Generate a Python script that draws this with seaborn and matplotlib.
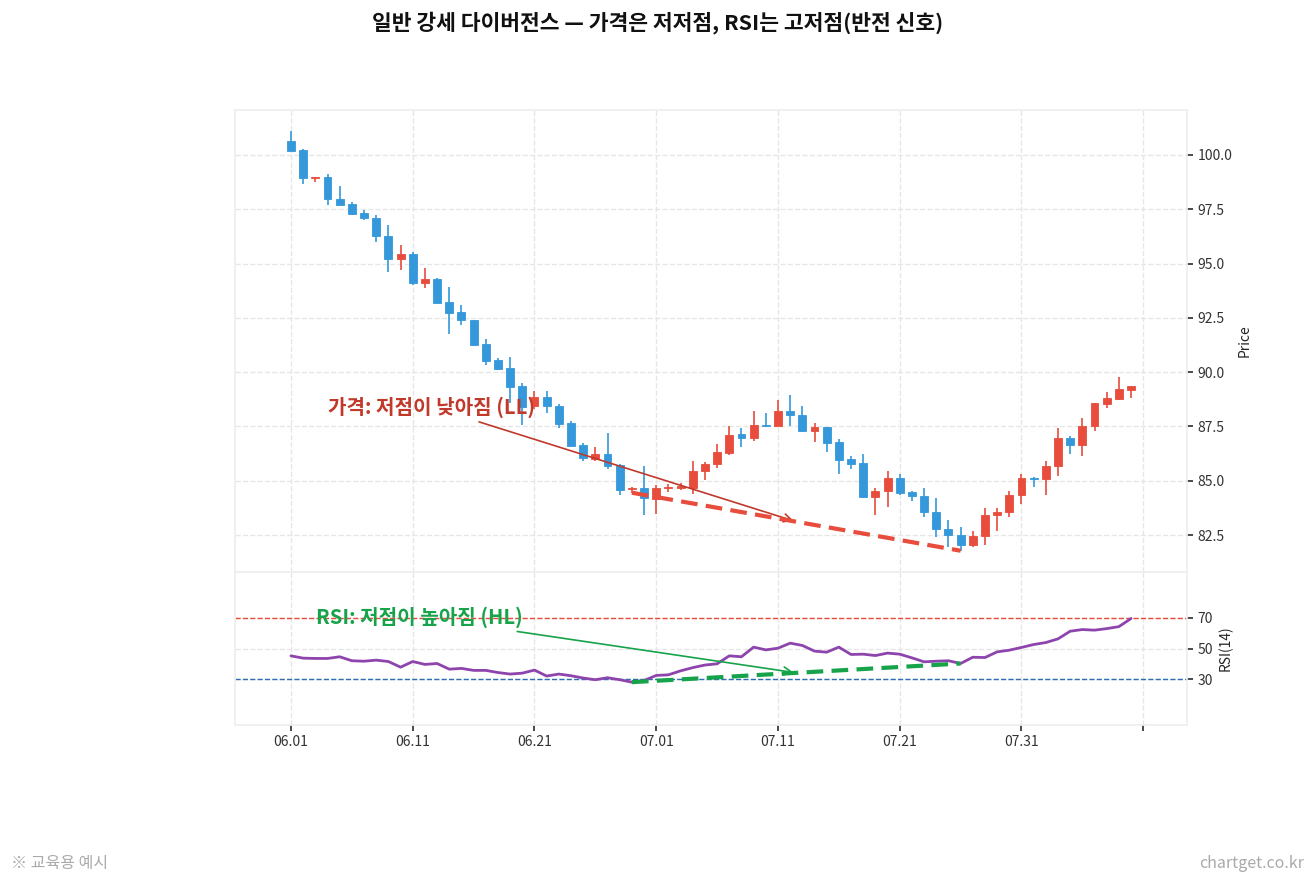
import numpy as np
import pandas as pd
import matplotlib
matplotlib.use("Agg")
from matplotlib import pyplot as plt
import seaborn as sns

# daily OHLC (index 0 = 06.01)
opens = [100.66, 100.25, 98.92, 99.00, 97.97, 97.74, 97.32, 97.09, 96.28, 95.23,
         95.45, 94.12, 94.29, 93.23, 92.77, 92.40, 91.28, 90.54, 90.17, 89.35,
         88.45, 88.87, 88.46, 87.64, 86.63, 86.02, 86.22, 85.72, 84.62, 84.65,
         84.15, 84.66, 84.69, 84.68, 85.47, 85.75, 86.28, 87.15, 86.97, 87.58,
         87.53, 88.22, 88.05, 87.27, 87.48, 86.77, 85.99, 85.80, 84.27, 84.51,
         85.12, 84.48, 84.31, 83.58, 82.79, 82.52, 82.04, 82.44, 83.41, 83.55,
         84.33, 85.14, 85.06, 85.66, 86.96, 86.67, 87.50, 88.55, 88.78, 89.20]
highs = [101.12, 100.28, 99.00, 99.12, 98.55, 97.83, 97.45, 97.23, 96.77, 95.85,
         95.52, 94.82, 94.32, 93.91, 93.08, 92.40, 91.51, 90.66, 90.69, 89.50,
         89.14, 89.13, 88.52, 87.76, 86.72, 86.57, 87.21, 85.75, 84.72, 85.70,
         84.82, 84.83, 84.90, 85.93, 85.87, 86.71, 87.50, 87.45, 88.22, 88.11,
         88.72, 88.95, 88.43, 87.65, 87.48, 86.94, 86.16, 86.22, 84.68, 85.46,
         85.31, 84.54, 84.66, 84.23, 83.19, 82.89, 82.70, 83.74, 83.74, 84.51,
         85.31, 85.18, 85.92, 87.45, 87.05, 87.88, 88.58, 89.10, 89.79, 89.35]
lows = [100.17, 98.66, 98.77, 97.69, 97.72, 97.26, 97.00, 95.98, 94.62, 94.71,
        94.00, 93.86, 93.20, 91.74, 92.15, 91.26, 90.34, 90.12, 88.58, 87.58,
        88.30, 88.14, 87.45, 86.62, 85.90, 85.93, 85.52, 84.33, 84.45, 83.43,
        83.46, 84.50, 84.56, 84.38, 85.05, 85.60, 86.20, 86.55, 86.84, 87.48,
        87.53, 87.50, 87.23, 86.78, 86.31, 85.29, 85.52, 84.19, 83.43, 83.81,
        84.36, 84.08, 83.35, 82.43, 81.97, 81.78, 81.94, 82.06, 82.70, 83.35,
        83.93, 84.72, 84.36, 85.21, 86.23, 86.13, 87.30, 88.34, 88.70, 88.83]
closes = [100.20, 98.92, 99.00, 97.97, 97.72, 97.29, 97.08, 96.26, 95.23, 95.45,
          94.12, 94.29, 93.20, 92.74, 92.38, 91.26, 90.52, 90.15, 89.32, 88.40,
          88.87, 88.45, 87.61, 86.62, 86.05, 86.22, 85.70, 84.59, 84.68, 84.19,
          84.65, 84.69, 84.72, 85.47, 85.76, 86.31, 87.12, 86.97, 87.58, 87.50,
          88.23, 88.02, 87.27, 87.48, 86.74, 85.96, 85.78, 84.25, 84.53, 85.12,
          84.46, 84.28, 83.55, 82.76, 82.49, 82.04, 82.47, 83.44, 83.58, 84.36,
          85.14, 85.06, 85.67, 86.96, 86.67, 87.51, 88.58, 88.80, 89.23, 89.35]
rsi = [45.2, 43.7, 43.5, 43.5, 44.6, 42.0, 41.7, 42.4, 41.5, 37.8,
       41.5, 39.6, 40.2, 36.5, 37.0, 35.7, 35.7, 34.3, 33.3, 33.9,
       35.9, 32.0, 33.3, 32.2, 30.7, 29.6, 30.9, 29.6, 28.0, 29.1,
       32.4, 32.8, 35.4, 37.5, 39.2, 40.0, 45.2, 44.6, 50.9, 49.1,
       50.2, 53.5, 52.0, 48.3, 47.6, 50.9, 46.1, 46.3, 45.4, 47.0,
       46.3, 43.9, 41.3, 41.7, 42.0, 40.2, 44.3, 44.1, 47.8, 48.9,
       50.7, 52.6, 53.9, 56.3, 61.3, 62.4, 62.0, 63.0, 64.3, 69.6]

dates = pd.date_range("2024-06-01", periods=len(closes), freq="D")
date_labels = [d.strftime("%m.%d") for d in dates]

# divergence pivots (index of the two lows)
pivot_a, pivot_b = 28, 55

UP = "#e74c3c"
DOWN = "#3498db"

sns.set_theme(style="whitegrid")
plt.rcParams["font.family"] = ["Noto Sans CJK KR", "DejaVu Sans"]
plt.rcParams["axes.unicode_minus"] = False

df = pd.DataFrame({"o": opens, "h": highs, "l": lows, "c": closes, "rsi": rsi})
df["idx"] = np.arange(len(df))
up = df["c"] >= df["o"]
colors = np.where(up, UP, DOWN)

fig = plt.figure(figsize=(13.15, 8.86), dpi=100)
ax = fig.add_axes([0.1787, 0.3544, 0.724, 0.5214])
ax2 = fig.add_axes([0.1787, 0.1817, 0.724, 0.1727], sharex=ax)

# candles
body_lo = np.minimum(df["o"], df["c"])
body_h = np.maximum((df["c"] - df["o"]).abs(), 0.05)
ax.vlines(df["idx"], df["l"], df["h"], color=colors, lw=1.2, zorder=2)
ax.bar(df["idx"], body_h, bottom=body_lo, width=0.65, color=colors,
       edgecolor=colors, lw=0.6, zorder=3)

# price divergence line
ax.plot([pivot_a, pivot_b], [lows[pivot_a], lows[pivot_b]], color=UP, lw=3,
        ls=(0, (4, 2)), zorder=4)
mid_p = (lows[pivot_a] + lows[pivot_b]) / 2
ax.annotate("가격: 저점이 낮아짐 (LL)", xy=((pivot_a + pivot_b) / 2, mid_p),
            xytext=(3.05, 88.4), ha="left", va="center", fontsize=14.5,
            fontweight="bold", color="#c0392b",
            arrowprops=dict(arrowstyle="->", color="#c0392b", lw=1.2))

ax.set_ylim(80.8, 102.07)
ax.set_yticks(np.arange(82.5, 100.1, 2.5))
ax.yaxis.set_major_formatter(matplotlib.ticker.FormatStrFormatter("%.1f"))
ax.yaxis.tick_right()
ax.yaxis.set_label_position("right")
ax.set_ylabel("Price", fontsize=10, labelpad=4)
ax.tick_params(labelbottom=False, bottom=False)

# RSI panel
sns.lineplot(data=df, x="idx", y="rsi", ax=ax2, color="#8e44ad", lw=2, zorder=3)
ax2.axhline(70, color=UP, lw=1, ls="--", zorder=2)
ax2.axhline(30, color="#2c6db5", lw=1, ls="--", zorder=2)
ax2.plot([pivot_a, pivot_b], [rsi[pivot_a], rsi[pivot_b]], color="#16a34a",
         lw=3, ls=(0, (4, 2)), zorder=4)
ax2.annotate("RSI: 저점이 높아짐 (HL)",
             xy=((pivot_a + pivot_b) / 2, (rsi[pivot_a] + rsi[pivot_b]) / 2),
             xytext=(2.06, 70.6), ha="left", va="center", fontsize=14.5,
             fontweight="bold", color="#16a34a",
             arrowprops=dict(arrowstyle="->", color="#16a34a", lw=1.2))
ax2.set_ylim(0, 100)
ax2.set_yticks([30, 50, 70])
ax2.yaxis.tick_right()
ax2.yaxis.set_label_position("right")
ax2.set_ylabel("RSI(14)", fontsize=10, labelpad=4)
ax2.set_xlabel("")

ticks = list(range(0, 71, 10))
ax2.set_xticks(ticks)
ax2.set_xticklabels([date_labels[t] if t < len(date_labels) else "" for t in ticks])
ax2.set_xlim(-4.6, 73.6)

for a in (ax, ax2):
    a.grid(True, ls="--", color="#e6e6e6", lw=1)
    a.set_facecolor("white")
    for s in a.spines.values():
        s.set_color("#eeeeee")
    a.tick_params(axis="y", right=True, length=4, color="#333333",
                  labelsize=10, labelcolor="#333333")
ax2.tick_params(axis="x", bottom=True, length=4, color="#333333",
                labelsize=10, labelcolor="#333333")

fig.suptitle("일반 강세 다이버전스 — 가격은 저저점, RSI는 고저점(반전 신호)",
             x=0.5, y=0.987, fontsize=15.5, fontweight="bold", color="#111111")
fig.text(0.008, 0.02, "※ 교육용 예시", fontsize=11.5, color="#aaaaaa")
fig.text(0.992, 0.02, "chartget.co.kr", fontsize=11.5, color="#aaaaaa", ha="right")

fig.savefig("out.png", dpi=100)
